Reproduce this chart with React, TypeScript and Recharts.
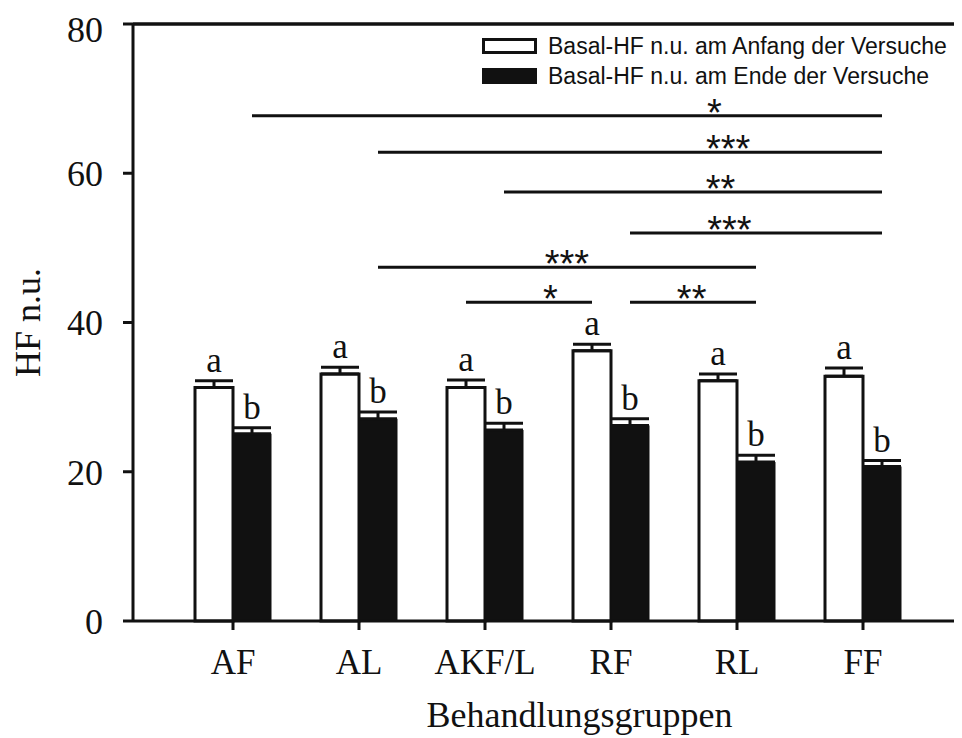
import React from 'react';
import {
  BarChart,
  Bar,
  XAxis,
  YAxis,
  ErrorBar,
  LabelList,
  Legend,
  ReferenceLine,
  ReferenceDot,
} from 'recharts';

// ---------- data ----------
const groups = ['AF', 'AL', 'AKF/L', 'RF', 'RL', 'FF'];
const anfang = [31.3, 33.1, 31.3, 36.2, 32.2, 32.8];
const anfangErr = [0.9, 0.9, 1.0, 0.9, 0.9, 1.1];
const ende = [25.1, 27.1, 25.6, 26.2, 21.3, 20.7];
const endeErr = [0.8, 0.9, 0.9, 0.9, 0.9, 0.8];
const anfangLetters = ['a', 'a', 'a', 'a', 'a', 'a'];
const endeLetters = ['b', 'b', 'b', 'b', 'b', 'b'];
const yTicks = [0, 20, 40, 60, 80];
const seriesNames = [
  'Basal-HF n.u. am Anfang der Versuche',
  'Basal-HF n.u. am Ende der Versuche',
];

// significance brackets (group indices, series, level, stars, star position in group units)
const sigFromGroup = [0, 1, 2, 3, 1, 2, 3];
const sigFromSeries = ['ende', 'ende', 'ende', 'ende', 'ende', 'anfang', 'ende'];
const sigToGroup = [5, 5, 5, 5, 4, 3, 4];
const sigToSeries = ['ende', 'ende', 'ende', 'ende', 'ende', 'anfang', 'ende'];
const sigLevel = [67.7, 62.8, 57.5, 52.0, 47.4, 42.7, 42.7];
const sigStars = ['*', '***', '**', '***', '***', '*', '**'];
const sigStarAt = [3.82, 3.93, 3.87, 3.94, 2.65, 2.52, 3.64];

// ---------- style ----------
const SERIF = '"Liberation Serif", "Times New Roman", serif';
const SANS = '"Liberation Sans", Arial, sans-serif';
const INK = '#111';
const BAND_PX = 126;
const BAR_PX = 38;
const BAR_OFFSET = BAR_PX / 2 / BAND_PX;
const PAD = { left: 37, right: 32 };
const PAD_IDX = { left: PAD.left + BAND_PX / 2, right: PAD.right + BAND_PX / 2 };
const RIGHT_EDGE = groups.length - 1 + (PAD_IDX.right - 1) / BAND_PX;

const data = groups.map((g, i) => ({
  group: g,
  anfang: anfang[i],
  ende: ende[i],
  anfangE: [0, anfangErr[i]],
  endeE: [0, endeErr[i]],
  anfangL: anfangLetters[i],
  endeL: endeLetters[i],
}));

const xPos = (g: number, s: string) => g + (s === 'anfang' ? -BAR_OFFSET : BAR_OFFSET);

const makeLetter = (vals: number[], errs: number[]) => (props: any) => {
  const vb = props.viewBox && props.viewBox.width != null ? props.viewBox : props;
  const { x, y, width, height } = vb;
  const i = props.index;
  const errPx = (errs[i] * Math.abs(height)) / vals[i];
  return (
    <text
      x={x + width / 2}
      y={y - errPx - 9}
      textAnchor="middle"
      fontSize={35}
      fontFamily={SERIF}
      fill={INK}
    >
      {props.value}
    </text>
  );
};

const renderLegend = (props: any) => {
  const payload = props.payload || [];
  const fills = ['#fff', INK];
  return (
    <div style={{ fontFamily: SANS, fontSize: 23, color: INK }}>
      {payload.map((p: any, i: number) => (
        <div key={i} style={{ display: 'flex', alignItems: 'center', height: 30 }}>
          <span
            style={{
              display: 'inline-block',
              width: 55,
              height: 16,
              boxSizing: 'border-box',
              border: `3px solid ${INK}`,
              background: fills[i],
              marginRight: 11,
            }}
          />
          <span style={{ whiteSpace: 'nowrap' }}>{p.value}</span>
        </div>
      ))}
    </div>
  );
};

const XLabel = (props: any) => {
  const vb = props.viewBox;
  return (
    <text
      x={vb.x + vb.width / 2 + 34}
      y={vb.y + vb.height - 11}
      textAnchor="middle"
      fontSize={36}
      fontFamily={SERIF}
      fill={INK}
    >
      Behandlungsgruppen
    </text>
  );
};

const YLabel = (props: any) => {
  const vb = props.viewBox;
  const x = vb.x + 20;
  const y = vb.y + vb.height / 2;
  return (
    <text
      x={x}
      y={y}
      transform={`rotate(-90, ${x}, ${y})`}
      textAnchor="middle"
      dominantBaseline="central"
      fontSize={36}
      fontFamily={SERIF}
      fill={INK}
    >
      HF n.u.
    </text>
  );
};

export default function App() {
  return (
    <BarChart
      width={954}
      height={730}
      data={data}
      margin={{ top: 15, right: 3, left: 0, bottom: 0 }}
      barCategoryGap={25}
      barGap={0}
    >
      <XAxis
        dataKey="group"
        xAxisId={0}
        padding={PAD}
        height={117}
        interval={0}
        tickSize={9}
        tickMargin={19}
        axisLine={{ stroke: INK, strokeWidth: 3 }}
        tickLine={{ stroke: INK, strokeWidth: 3 }}
        tick={{ fontSize: 35, fill: INK, fontFamily: SERIF }}
        label={<XLabel />}
      />
      <XAxis
        xAxisId="n"
        type="number"
        orientation="top"
        domain={[0, 5]}
        padding={PAD_IDX}
        height={1}
        tick={false}
        tickLine={false}
        allowDataOverflow
        axisLine={{ stroke: INK, strokeWidth: 3 }}
      />
      <YAxis
        yAxisId={0}
        domain={[0, 80]}
        ticks={yTicks}
        width={125}
        tickSize={10}
        tickMargin={20}
        axisLine={{ stroke: INK, strokeWidth: 3 }}
        tickLine={{ stroke: INK, strokeWidth: 3 }}
        tick={{ fontSize: 36, fill: INK, fontFamily: SERIF }}
        label={<YLabel />}
      />
      <YAxis
        yAxisId="r"
        orientation="right"
        type="number"
        domain={[0, 80]}
        width={1}
        tick={false}
        tickLine={false}
        axisLine={{ stroke: '#aaa', strokeWidth: 1.5 }}
      />
      <Legend
        layout="vertical"
        align="center"
        verticalAlign="middle"
        content={renderLegend}
        wrapperStyle={{ top: 23, left: 474, right: 'auto', bottom: 'auto', width: 'auto' }}
      />
      <ReferenceLine yAxisId={0} y={80} stroke={INK} strokeWidth={3} ifOverflow="visible" />
      <ReferenceLine
        xAxisId="n"
        yAxisId={0}
        segment={[
          { x: RIGHT_EDGE, y: 0 },
          { x: RIGHT_EDGE, y: 80 },
        ]}
        stroke="#a0a0a0"
        strokeWidth={2}
        ifOverflow="visible"
      />
      <Bar
        dataKey="anfang"
        name={seriesNames[0]}
        fill="#fff"
        stroke={INK}
        strokeWidth={3}
        isAnimationActive={false}
      >
        <ErrorBar dataKey="anfangE" width={19} stroke={INK} strokeWidth={3} direction="y" />
        <LabelList dataKey="anfangL" content={makeLetter(anfang, anfangErr)} />
      </Bar>
      <Bar
        dataKey="ende"
        name={seriesNames[1]}
        fill={INK}
        stroke={INK}
        strokeWidth={1}
        isAnimationActive={false}
      >
        <ErrorBar dataKey="endeE" width={19} stroke={INK} strokeWidth={3} direction="y" />
        <LabelList dataKey="endeL" content={makeLetter(ende, endeErr)} />
      </Bar>
      {sigLevel.map((lvl, i) => (
        <ReferenceLine
          key={`l${i}`}
          xAxisId="n"
          yAxisId={0}
          ifOverflow="visible"
          segment={[
            { x: xPos(sigFromGroup[i], sigFromSeries[i]), y: lvl },
            { x: xPos(sigToGroup[i], sigToSeries[i]), y: lvl },
          ]}
          stroke={INK}
          strokeWidth={3}
        />
      ))}
      {sigLevel.map((lvl, i) => (
        <ReferenceDot
          key={`s${i}`}
          xAxisId="n"
          yAxisId={0}
          x={sigStarAt[i]}
          y={lvl}
          r={1}
          ifOverflow="visible"
          shape={(p: any) => (
            <text
              x={p.cx}
              y={p.cy + 10}
              textAnchor="middle"
              fontSize={38}
              fontFamily={SANS}
              fill={INK}
            >
              {sigStars[i]}
            </text>
          )}
        />
      ))}
    </BarChart>
  );
}
